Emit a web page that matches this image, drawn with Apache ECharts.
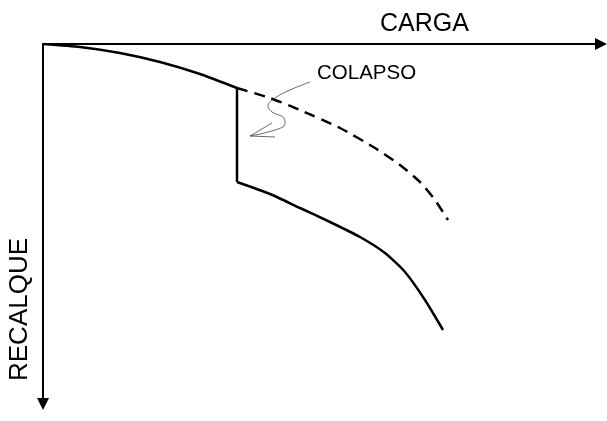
<!DOCTYPE html>
<html>
<head>
<meta charset="utf-8">
<script src="https://cdn.jsdelivr.net/npm/echarts@6/dist/echarts.min.js"></script>
<style>html,body{margin:0;padding:0;background:#fff}#c{width:607px;height:421px}</style>
</head>
<body>
<div id="c"></div>
<script>
// Load (CARGA) vs settlement (RECALQUE), arbitrary units
const upperCurve = [[0,0],[37,3],[77,9],[117,18],[157,30],[194,44]];
const collapseDrop = [[194,44],[194,138]];
const lowerCurve = [[194,138],[227,150],[257,164],[287,178],[317,193],[342,209],[362,228],[382,256],[400,286]];
const dryCurve = [[194,44],[227,54],[257,66],[297,84],[332,104],[357,121],[377,138],[392,156],[405,176]];
const pointerSquiggle = [[267,38],[247,46],[232,54],[225,62],[229,68],[241,74],[242,80],[232,86],[207,92]];
const pointerBarbA = [[207,92],[229,79]];
const pointerBarbB = [[207,92],[232,93]];
const labels = {x:'CARGA', y:'RECALQUE', note:'COLAPSO'};

const chart = echarts.init(document.getElementById('c'), null, {renderer:'canvas'});
function axis(extra, sym){
  return Object.assign({
    type:'value', min:0,
    axisTick:{show:false}, axisLabel:{show:false}, splitLine:{show:false},
    axisLine:{show:true, onZero:false, symbol:sym, symbolSize:[12,12],
      lineStyle:{color:'#000', width:2}}
  }, extra);
}
function line(data, opts){
  return Object.assign({type:'line', data:data, symbol:'none', silent:true,
    lineStyle:{color:'#000', width:2.5}}, opts||{});
}
const ff = '"Liberation Sans", Arial, sans-serif';
chart.setOption({
  animation:false,
  grid:{left:43, top:44, width:558, height:360},
  xAxis:axis({max:558, position:'top'}, ['none','triangle']),
  yAxis:axis({max:360, inverse:true, position:'left'}, ['triangle','none']),
  series:[
    line(upperCurve, {smooth:0.2}),
    line(collapseDrop),
    line(lowerCurve, {smooth:0.2}),
    line(dryCurve, {smooth:0.2, lineStyle:{color:'#000', width:2.5, type:[11,7]}}),
    line(pointerSquiggle, {smooth:0.4, lineStyle:{color:'#444', width:0.8}}),
    line(pointerBarbA, {lineStyle:{color:'#444', width:0.8}}),
    line(pointerBarbB, {lineStyle:{color:'#444', width:0.8}})
  ],
  graphic:[
    {type:'text', left:380, top:12, style:{text:labels.x, fontSize:25, fontFamily:ff, fill:'#000'}},
    {type:'text', left:317, top:63, style:{text:labels.note, fontSize:20.5, fontFamily:ff, fill:'#000'}},
    {type:'text', x:7, y:381, rotation:Math.PI/2, style:{text:labels.y, fontSize:26, fontFamily:ff, fill:'#000', verticalAlign:'top'}}
  ]
});
</script>
</body>
</html>
